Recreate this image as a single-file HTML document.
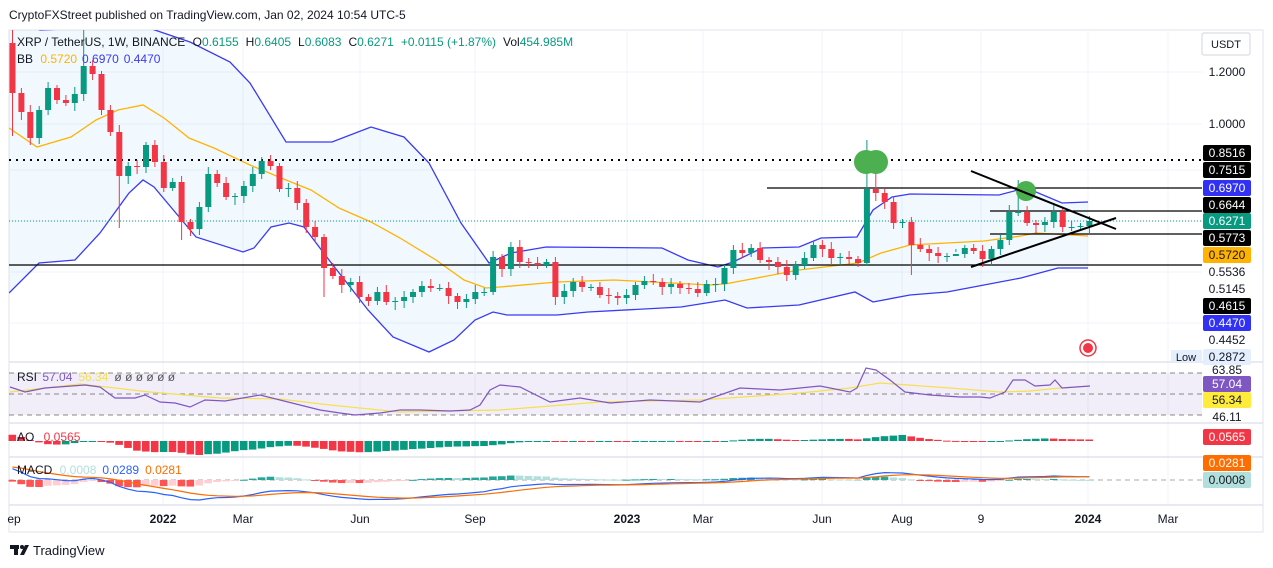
<!DOCTYPE html>
<html><head><meta charset="utf-8">
<style>
html,body{margin:0;padding:0;background:#fff;}
svg{display:block;font-family:"Liberation Sans",sans-serif;}
</style></head>
<body>
<svg id="s" width="1273" height="568" viewBox="0 0 1273 568" xmlns="http://www.w3.org/2000/svg">
<defs><clipPath id="mp"><rect x="9" y="30" width="1193" height="332"/></clipPath></defs>
<rect width="1273" height="568" fill="#fff"/>
<text x="9" y="19" font-size="12" fill="#131722">CryptoFXStreet published on TradingView.com, Jan 02, 2024 10:54 UTC-5</text>
<rect x="9" y="30" width="1254" height="502" fill="none" stroke="#e0e3eb"/>
<g id="grid" stroke="#f0f3fa" stroke-width="1"></g>
<g id="bb" clip-path="url(#mp)"></g>
<g id="lines"></g>
<g id="candles" clip-path="url(#mp)"></g>
<g id="ann"></g>
<g id="ind"></g>
<g stroke="#e0e3eb" stroke-width="1.5">
<line x1="9" y1="362" x2="1263" y2="362"/>
<line x1="9" y1="423" x2="1263" y2="423"/>
<line x1="9" y1="457" x2="1263" y2="457"/>
<line x1="9" y1="505" x2="1263" y2="505"/>
</g>
<text x="17" y="46" font-size="12" fill="#131722">XRP / TetherUS, 1W, BINANCE <tspan dx="4">O</tspan><tspan fill="#089981">0.6155</tspan><tspan dx="7">H</tspan><tspan fill="#089981">0.6405</tspan><tspan dx="7">L</tspan><tspan fill="#089981">0.6083</tspan><tspan dx="7">C</tspan><tspan fill="#089981">0.6271</tspan><tspan dx="7" fill="#089981">+0.0115 (+1.87%)</tspan><tspan dx="7">Vol</tspan><tspan fill="#089981">454.985M</tspan></text>
<text x="17" y="63" font-size="12" fill="#131722">BB <tspan dx="4" fill="#ffb300">0.5720</tspan><tspan dx="5" fill="#3a3af5">0.6970</tspan><tspan dx="5" fill="#3a3af5">0.4470</tspan></text>
<text x="17" y="381" font-size="12" fill="#131722">RSI <tspan dx="2" fill="#7e57c2">57.04</tspan><tspan dx="6" fill="#f5e050">56.34</tspan><tspan dx="6" fill="#555">ø ø ø ø ø ø</tspan></text>
<text x="17" y="441" font-size="12" fill="#131722">AO <tspan dx="6" fill="#f23645">0.0565</tspan></text>
<text x="17" y="474" font-size="12" fill="#131722">MACD <tspan dx="4" fill="#b2dfdb">0.0008</tspan><tspan dx="6" fill="#2962ff">0.0289</tspan><tspan dx="6" fill="#ff6d00">0.0281</tspan></text>
<rect x="1202" y="33" width="48" height="22" rx="2" fill="#fff" stroke="#d1d4dc"/>
<text x="1226" y="48" font-size="11" fill="#131722" text-anchor="middle">USDT</text>
<g font-size="12" text-anchor="middle" id="axis"></g>
<g font-size="12" fill="#131722" text-anchor="middle">
<text x="14" y="523">ep</text>
<text x="163" y="523" font-weight="bold">2022</text>
<text x="243" y="523">Mar</text>
<text x="360" y="523">Jun</text>
<text x="475" y="523">Sep</text>
<text x="627" y="523" font-weight="bold">2023</text>
<text x="703" y="523">Mar</text>
<text x="822" y="523">Jun</text>
<text x="902" y="523">Aug</text>
<text x="981" y="523">9</text>
<text x="1088" y="523" font-weight="bold">2024</text>
<text x="1168" y="523">Mar</text>
</g>
<circle cx="1088" cy="348" r="8" fill="#fff" stroke="#f23645" stroke-width="1.5"/>
<circle cx="1088" cy="348" r="5" fill="#f23645"/>
<g fill="#131722"><rect x="10" y="545" width="9" height="4"/><rect x="14" y="545" width="4" height="10"/><circle cx="22" cy="547" r="2"/><polygon points="25,545 29,545 24,555 20,555"/></g>
<text x="33" y="555" font-size="13" fill="#131722">TradingView</text>
</svg>
<script>
(function(){
var NS="http://www.w3.org/2000/svg";
function el(p,t,a){var e=document.createElementNS(NS,t);for(var k in a)e.setAttribute(k,a[k]);p.appendChild(e);return e;}
var g=function(id){return document.getElementById(id);};
[163,243,360,475,627,703,822,902,981,1088,1168].forEach(function(x){el(g('grid'),'line',{x1:x,y1:30,x2:x,y2:505});});
[72,124,170,221,272,323].forEach(function(y){el(g('grid'),'line',{x1:9,y1:y,x2:1202,y2:y});});
var up=[[9,20],[30,25],[40,30],[143,26],[190,42],[230,62],[250,83],[286,142],[332,142],[371,127],[404,137],[429,163],[461,223],[489,263],[511,253],[546,247],[662,248],[688,260],[718,267],[733,262],[762,248],[799,247],[821,238],[857,237],[873,210],[892,197],[910,194],[999,195],[1018,190],[1036,192],[1062,203],[1088,202]];
var lo=[[9,293],[39,263],[75,260],[100,233],[129,193],[143,180],[154,187],[196,237],[243,252],[254,248],[271,227],[289,223],[304,227],[329,260],[368,310],[393,337],[429,352],[454,340],[475,320],[493,312],[507,315],[557,315],[588,312],[681,307],[725,300],[747,308],[799,305],[855,292],[873,302],[910,295],[947,292],[984,285],[1021,278],[1058,268],[1088,268]];
var mid=[[9,128],[37,147],[71,137],[96,120],[118,110],[143,105],[164,118],[189,138],[214,148],[250,165],[286,180],[311,190],[339,208],[371,222],[400,238],[436,260],[464,280],[486,288],[500,287],[557,282],[614,280],[710,285],[725,284],[799,270],[858,263],[881,253],[910,245],[984,241],[1021,236],[1036,233],[1088,236]];
function pts(a){return a.map(function(p){return p[0]+','+p[1];}).join(' ');}
el(g('bb'),'polygon',{points:pts(up)+' '+pts(lo.slice().reverse()),fill:'#2196f3','fill-opacity':'0.06'});
el(g('bb'),'polyline',{points:pts(up),fill:'none',stroke:'#3a3af5','stroke-width':1.3});
el(g('bb'),'polyline',{points:pts(lo),fill:'none',stroke:'#3a3af5','stroke-width':1.3});
el(g('bb'),'polyline',{points:pts(mid),fill:'none',stroke:'#ffb300','stroke-width':1.3});
var L=g('lines');
el(L,'line',{x1:9,y1:160,x2:1202,y2:160,stroke:'#000','stroke-width':2,'stroke-dasharray':'2,5'});
el(L,'line',{x1:9,y1:265,x2:1202,y2:265,stroke:'#000','stroke-width':1.3});
el(L,'line',{x1:767,y1:188,x2:1202,y2:188,stroke:'#000','stroke-width':1.3});
el(L,'line',{x1:990,y1:211,x2:1202,y2:211,stroke:'#000','stroke-width':1.3});
el(L,'line',{x1:990,y1:234,x2:1202,y2:234,stroke:'#000','stroke-width':1.3});
el(L,'line',{x1:9,y1:221,x2:1202,y2:221,stroke:'#089981','stroke-width':1,'stroke-dasharray':'1,2'});
var cl=[93,112,138,110,88,100,103,94,66,74,110,132,176,166,167,145,162,188,182,222,229,207,174,183,197,196,186,174,161,166,189,188,203,227,237,268,276,285,282,297,301,292,302,301,297,292,286,288,288,296,302,299,292,292,257,269,247,262,263,265,262,297,
291,282,287,287,295,296,298,295,285,281,282,287,284,288,289,293,284,284,268,250,253,248,260,262,267,275,265,258,245,249,258,257,259,263,189,193,202,223,222,245,249,253,256,256,254,248,251,259,249,240,212,212,223,225,222,212,227,227,226,221];
var ov={0:{o:43,h:30,l:136},8:{h:30},12:{l:228},35:{l:297},19:{l:240},96:{h:140},97:{h:162},101:{l:275},106:{l:252},113:{h:180},107:{h:245}};
var C=g('candles');var prev=43;var xs=[];
for(var i=0;i<cl.length;i++){var x=12.5+i*8.9;xs.push(x);var o=(ov[i]&&ov[i].o)||prev;var c=cl[i];
 var tp=Math.min(o,c),bt=Math.max(o,c);var hh=(ov[i]&&ov[i].h)||tp-3-(i*7%5);var ll=(ov[i]&&ov[i].l)||bt+3+(i*11%6);
 var col=c<=o?'#089981':'#f23645';
 el(C,'line',{x1:x,y1:hh,x2:x,y2:ll,stroke:col,'stroke-width':1});
 el(C,'rect',{x:x-3,y:tp,width:6,height:Math.max(1,bt-tp),fill:col});
 prev=c;}
var A=g('ann');
el(A,'circle',{cx:866,cy:162,r:12,fill:'#4caf50'});
el(A,'circle',{cx:876,cy:162,r:12,fill:'#4caf50'});
el(A,'circle',{cx:1026,cy:191,r:10,fill:'#4caf50'});
el(A,'line',{x1:971,y1:171,x2:1116,y2:229,stroke:'#000','stroke-width':2});
el(A,'line',{x1:971,y1:267,x2:1116,y2:218,stroke:'#000','stroke-width':2});
var I=g('ind');
el(I,'rect',{x:9,y:373,width:1193,height:42,fill:'#7e57c2','fill-opacity':0.1});
[373,394,415].forEach(function(y){el(I,'line',{x1:9,y1:y,x2:1202,y2:y,stroke:'#888','stroke-dasharray':'5,4','stroke-width':1});});
var rsi=[[10,387],[25,392],[45,388],[85,385],[100,387],[115,398],[135,398],[145,395],[160,402],[175,403],[190,407],[205,400],[225,401],[260,395],[280,400],[300,405],[320,410],[340,413],[355,415],[380,413],[400,410],[420,410],[450,411],[470,410],[480,405],[490,390],[500,385],[520,387],[550,402],[580,398],[610,403],[650,400],[700,402],[720,395],[740,388],[780,390],[820,386],[850,392],[857,388],[866,368],[876,370],[890,380],[905,392],[930,395],[960,397],[980,397],[990,398],[1005,392],[1013,380],[1025,380],[1035,386],[1050,385],[1055,380],[1062,388],[1090,386]];
var rma=[[10,392],[80,384],[150,392],[220,398],[280,399],[330,405],[400,412],[500,410],[600,402],[700,400],[800,393],[850,388],[880,383],[950,388],[1000,392],[1030,391],[1060,388],[1090,386]];
el(I,'polyline',{points:pts(rma),fill:'none',stroke:'#f5e050','stroke-width':1.2});
el(I,'polyline',{points:pts(rsi),fill:'none',stroke:'#7e57c2','stroke-width':1.2});
var pr=[];for(var k=0;k<40;k++)pr.push(Math.exp(-((160-k*2.9)-124)/285));
cl.forEach(function(y){pr.push(Math.exp(-(y-124)/285));});
function sma(a,n,i){var s=0;for(var j=i-n+1;j<=i;j++)s+=a[Math.max(0,j)];return s/n;}
var ao=[];for(var k=0;k<pr.length;k++)ao.push(sma(pr,5,k)-sma(pr,34,k));
function ema(a,n){var r=[],m=2/(n+1),v=a[0];for(var k=0;k<a.length;k++){v=a[k]*m+v*(1-m);r.push(v);}return r;}
var e12=ema(pr,12),e26=ema(pr,26);var mac=e12.map(function(v,k){return v-e26[k];});var sig=ema(mac,9);
var off=40;var aoS=ao.slice(off),mS=mac.slice(off),sS=sig.slice(off);
var amax=0;aoS.forEach(function(v){amax=Math.max(amax,Math.abs(v));});
for(var i=0;i<aoS.length;i++){var v=aoS[i];var hg=v/amax*14;var col=(ao[i+off]>=ao[i+off-1])?'#089981':'#f23645';
 el(I,'rect',{x:xs[i]-4,y:hg>0?441-hg:441,width:7.6,height:Math.max(1,Math.abs(hg)),fill:col});}
var mmax=0;mS.forEach(function(v,k){mmax=Math.max(mmax,Math.abs(v),Math.abs(sS[k]));});
el(I,'line',{x1:9,y1:480,x2:1202,y2:480,stroke:'#aaa','stroke-dasharray':'5,4'});
var mp=[],sp=[];
for(var i=0;i<mS.length;i++){var hg=(mS[i]-sS[i])/mmax*20;var prevh=i>0?(mS[i-1]-sS[i-1]):0;var cur=mS[i]-sS[i];
 var col=cur>=0?(cur>=prevh?'#26a69a':'#b2dfdb'):(cur<prevh?'#ff5252':'#ffcdd2');
 el(I,'rect',{x:xs[i]-4,y:hg>0?480-hg:480,width:7.6,height:Math.max(1,Math.abs(hg)),fill:col});
 mp.push([xs[i].toFixed(1),(480-mS[i]/mmax*20).toFixed(1)]);sp.push([xs[i].toFixed(1),(480-sS[i]/mmax*20).toFixed(1)]);}
el(I,'polyline',{points:pts(mp),fill:'none',stroke:'#2962ff','stroke-width':1.2});
el(I,'polyline',{points:pts(sp),fill:'none',stroke:'#ff6d00','stroke-width':1.2});
var AX=g('axis');
function lab(y,t,bg,fg){if(bg)el(AX,'rect',{x:1203,y:y-8,width:48,height:16,rx:2,fill:bg});var tx=el(AX,'text',{x:1227,y:y+4,fill:fg||'#131722'});tx.textContent=t;}
lab(72,'1.2000');lab(124,'1.0000');
lab(153,'0.8516','#000','#fff');lab(170,'0.7515','#000','#fff');lab(188,'0.6970','#3131f5','#fff');
lab(205,'0.6644','#000','#fff');lab(221,'0.6271','#089981','#fff');lab(238,'0.5773','#000','#fff');
lab(255,'0.5720','#ffb300','#131722');lab(272,'0.5536');lab(289,'0.5145');
lab(306,'0.4615','#000','#fff');lab(323,'0.4470','#3131f5','#fff');lab(340,'0.4452');
el(AX,'rect',{x:1171,y:350,width:31,height:12,fill:'#e3effd'});
var lt=el(AX,'text',{x:1186,y:361,fill:'#131722','font-size':11});lt.textContent='Low';
lab(357,'0.2872','#e3effd');
lab(370,'63.85');lab(384,'57.04','#7e57c2','#fff');lab(400,'56.34','#ffeb3b','#131722');lab(417,'46.11');
lab(437,'0.0565','#f23645','#fff');lab(463,'0.0281','#ff6d00','#fff');lab(480,'0.0008','#b2dfdb','#131722');
})();
</script>
</body></html>
